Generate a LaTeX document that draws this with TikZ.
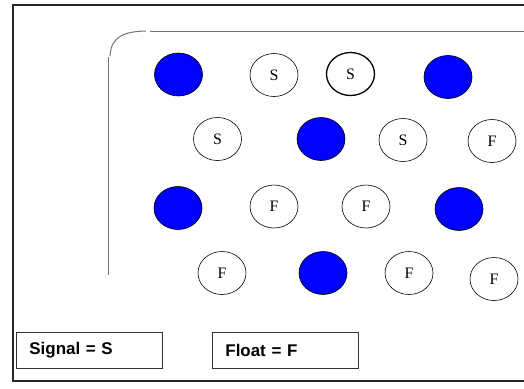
\documentclass[tikz,border=0pt]{standalone}
\usepackage{fontspec}
\setmainfont{Liberation Serif}
\newfontfamily\labelfont{Liberation Sans}
\begin{document}
\begin{tikzpicture}[x=1bp,y=-1bp,
  frameline/.style={line width=1.4bp,draw=black!85},
  innerline/.style={line width=1bp,draw=black!55},
  pin/.style={ellipse,draw=black,line width=0.6bp,minimum width=48bp,minimum height=43bp,inner sep=0pt,font=\fontsize{16}{16}\selectfont},
  pinb/.style={pin,line width=1.3bp},
  gnd/.style={pin,fill=blue},
  legend/.style={draw=black!80,line width=0.8bp,minimum width=146bp,minimum height=36bp,inner sep=0pt,anchor=north west,font=\labelfont\bfseries\fontsize{17}{17}\selectfont,text width=120bp,align=left}
]
\usetikzlibrary{shapes.geometric}
\useasboundingbox (0,0) rectangle (524,388);
\draw[frameline] (524,5) -- (13,5) -- (13,381) -- (524,381);
\draw[innerline] (108.5,275) -- (108.5,57);
\draw[innerline] (110,56) .. controls (111,36) and (125,31.5) .. (146,31);
\draw[innerline] (150,31) -- (524,31);
% row 1
\node[gnd] (a1) at (178.5,74.5) {};
\node[pin] (a2) at (274,75) {S};
\node[pinb] (a3) at (350.5,74) {S};
\node[gnd] (a4) at (448,77) {};
% row 2
\node[pin] (b1) at (217.5,139) {S};
\node[gnd] (b2) at (321,139) {};
\node[pin] (b3) at (403,140) {S};
\node[pin] (b4) at (492,141) {F};
% row 3
\node[gnd] (c1) at (178,208) {};
\node[pin] (c2) at (274,206.5) {F};
\node[pin] (c3) at (366,206.5) {F};
\node[gnd] (c4) at (459,209) {};
% row 4
\node[pin] (d1) at (222,273) {F};
\node[gnd] (d2) at (323,273) {};
\node[pin] (d3) at (409,273) {F};
\node[pin] (d4) at (494,279) {F};
% legend
\node[legend] (sig) at (16,332) {Signal = S};
\node[legend] (flt) at (212,332) {Float = F};
\end{tikzpicture}
\end{document}
